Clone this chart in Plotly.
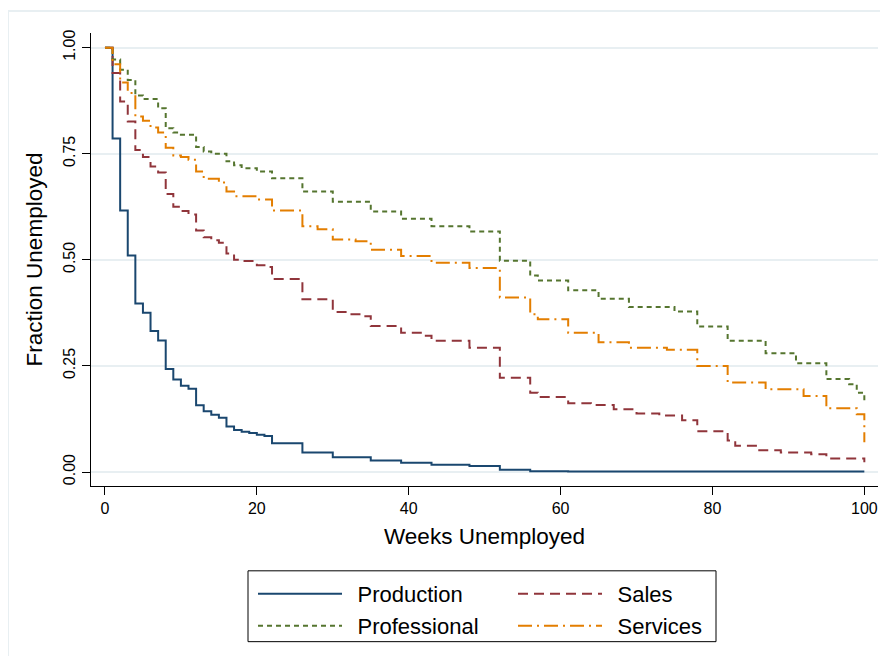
import plotly.graph_objects as go

# ---- data ----
weeks_production = [0, 1, 2, 3, 4, 5, 6, 7, 8, 9, 10, 11, 12, 13, 14, 15, 16, 17, 18, 19, 20, 21, 22,
                    26, 30, 35, 39, 43, 48, 52, 56, 61, 100]
production = [1.0, 0.786, 0.616, 0.510, 0.397, 0.375, 0.332, 0.310, 0.243, 0.218, 0.203, 0.196, 0.157,
              0.143, 0.135, 0.128, 0.107, 0.099, 0.095, 0.092, 0.088, 0.085, 0.068,
              0.046, 0.035, 0.027, 0.022, 0.017, 0.014, 0.005, 0.002, 0.001, 0.001]

weeks_sales = [0, 1, 2, 3, 4, 5, 6, 7, 8, 9, 10, 11, 12, 13, 14, 15, 16, 17, 18, 20, 21, 22,
               26, 30, 32, 34, 35, 39, 42, 43, 48, 52, 56, 57, 61, 64, 67, 70, 73, 76, 78,
               82, 83, 86, 89, 93, 95, 100]
sales = [1.0, 0.940, 0.873, 0.826, 0.759, 0.742, 0.720, 0.706, 0.655, 0.625, 0.615, 0.607, 0.569,
         0.553, 0.546, 0.540, 0.515, 0.500, 0.497, 0.487, 0.483, 0.455,
         0.407, 0.377, 0.372, 0.367, 0.344, 0.328, 0.321, 0.309, 0.293, 0.222, 0.187, 0.177,
         0.162, 0.158, 0.148, 0.138, 0.133, 0.122, 0.096, 0.074, 0.062, 0.051, 0.046, 0.042,
         0.032, 0.023]

weeks_professional = [0, 1, 2, 3, 4, 5, 7, 8, 9, 10, 12, 13, 14, 16, 17, 18, 20, 22, 26, 30, 35,
                      39, 43, 48, 52, 56, 57, 61, 65, 69, 75, 78, 82, 87, 91, 95, 98, 99, 100]
professional = [1.0, 0.972, 0.948, 0.924, 0.887, 0.879, 0.857, 0.810, 0.800, 0.795, 0.766, 0.755,
                0.750, 0.732, 0.723, 0.716, 0.708, 0.692, 0.661, 0.637, 0.614, 0.597, 0.579,
                0.567, 0.498, 0.463, 0.451, 0.428, 0.408, 0.389, 0.378, 0.343, 0.309, 0.280,
                0.256, 0.219, 0.207, 0.187, 0.164]

weeks_services = [0, 1, 2, 3, 4, 5, 6, 7, 8, 9, 10, 11, 12, 13, 15, 16, 17, 20, 22, 26, 28, 30,
                  33, 35, 39, 43, 48, 52, 56, 57, 61, 65, 69, 74, 78, 82, 87, 92, 95, 99, 100]
services = [1.0, 0.961, 0.918, 0.893, 0.838, 0.828, 0.812, 0.800, 0.764, 0.746, 0.742, 0.736,
            0.708, 0.691, 0.682, 0.661, 0.650, 0.642, 0.616, 0.579, 0.572, 0.548, 0.544, 0.524,
            0.509, 0.493, 0.481, 0.411, 0.372, 0.360, 0.328, 0.306, 0.293, 0.288, 0.250,
            0.211, 0.195, 0.179, 0.150, 0.136, 0.070]

series_names = ["Production", "Sales", "Professional", "Services"]
colors = ["#1a476f", "#90353b", "#55752f", "#e37e00"]
dashes = ["solid", "10px,6px", "5px,4px", "14px,5px,2px,5px"]

x_ticks = [0, 20, 40, 60, 80, 100]
y_ticks = [0, 0.25, 0.5, 0.75, 1.0]
y_tick_labels = ["0.00", "0.25", "0.50", "0.75", "1.00"]

FONT = "Liberation Sans, Arial, Helvetica, sans-serif"
OFF = 8                    # page offset of the figure (body margin)
W, H = 880, 648
L, R, T, B = 91, 878, 33, 487  # plot area in page pixels


def px_x(p):
    return (p - L) / (R - L)


def px_y(p):
    return (B - p) / (B - T)


fig = go.Figure()
data = [(weeks_production, production), (weeks_sales, sales),
        (weeks_professional, professional), (weeks_services, services)]
legend_ids = ["legend", "legend2", "legend3", "legend4"]
for (wk, val), name, c, d, lg in zip(data, series_names, colors, dashes, legend_ids):
    fig.add_trace(go.Scatter(x=wk, y=val, mode="lines", name="\u00a0\u2009" + name, line_shape="hv",
                             line=dict(color=c, width=2, dash=d), legend=lg))

# legend placement: Production / Sales on row 1, Professional / Services on row 2
leg_pos = {"legend": (253, 594), "legend2": (513, 594), "legend3": (253, 626), "legend4": (513, 626)}
layout_legends = {}
for lg, (lx, ly) in leg_pos.items():
    layout_legends[lg] = dict(x=px_x(lx), y=px_y(ly), xanchor="left", yanchor="middle",
                              bgcolor="rgba(0,0,0,0)", borderwidth=0, itemwidth=84,
                              font=dict(family=FONT, size=22, color="black"))

fig.update_layout(
    width=W, height=H,
    margin=dict(l=L - OFF, r=W - (R - OFF), t=T - OFF, b=H - (B - OFF), pad=0),
    paper_bgcolor="white", plot_bgcolor="white",
    font=dict(family=FONT, color="black"),
    showlegend=True,
    **layout_legends,
    xaxis=dict(range=[-1.84, 101.8], tickvals=x_ticks, ticktext=[str(v) for v in x_ticks],
               showgrid=False, zeroline=False, showline=True, linecolor="black", linewidth=1.3,
               ticks="outside", ticklen=8, tickwidth=1.3, tickcolor="black",
               tickfont=dict(family=FONT, size=16, color="black"),
               title=dict(text="Weeks Unemployed", font=dict(family=FONT, size=22.5, color="black"),
                          standoff=11)),
    yaxis=dict(range=[-0.033, 1.0345], tickvals=y_ticks, ticktext=y_tick_labels, tickangle=-90,
               showgrid=True, gridcolor="#e8eff2", gridwidth=2, zeroline=False,
               showline=True, linecolor="black", linewidth=1.3,
               ticks="outside", ticklen=8, tickwidth=1.3, tickcolor="black",
               tickfont=dict(family=FONT, size=16, color="black"),
               title=dict(text="Fraction Unemployed", font=dict(family=FONT, size=22.5, color="black"),
                          standoff=12)),
    shapes=[
        # outer graph-region frame (top and left visible)
        dict(type="rect", xref="paper", yref="paper", x0=px_x(8), x1=px_x(900), y0=px_y(700),
             y1=px_y(11), line=dict(color="#e8eff2", width=2), fillcolor="rgba(0,0,0,0)", layer="below"),
        # legend box
        dict(type="rect", xref="paper", yref="paper", x0=px_x(248), x1=px_x(716), y0=px_y(643),
             y1=px_y(572), line=dict(color="black", width=1), fillcolor="rgba(0,0,0,0)"),
    ],
)

fig.write_html("out.html")
